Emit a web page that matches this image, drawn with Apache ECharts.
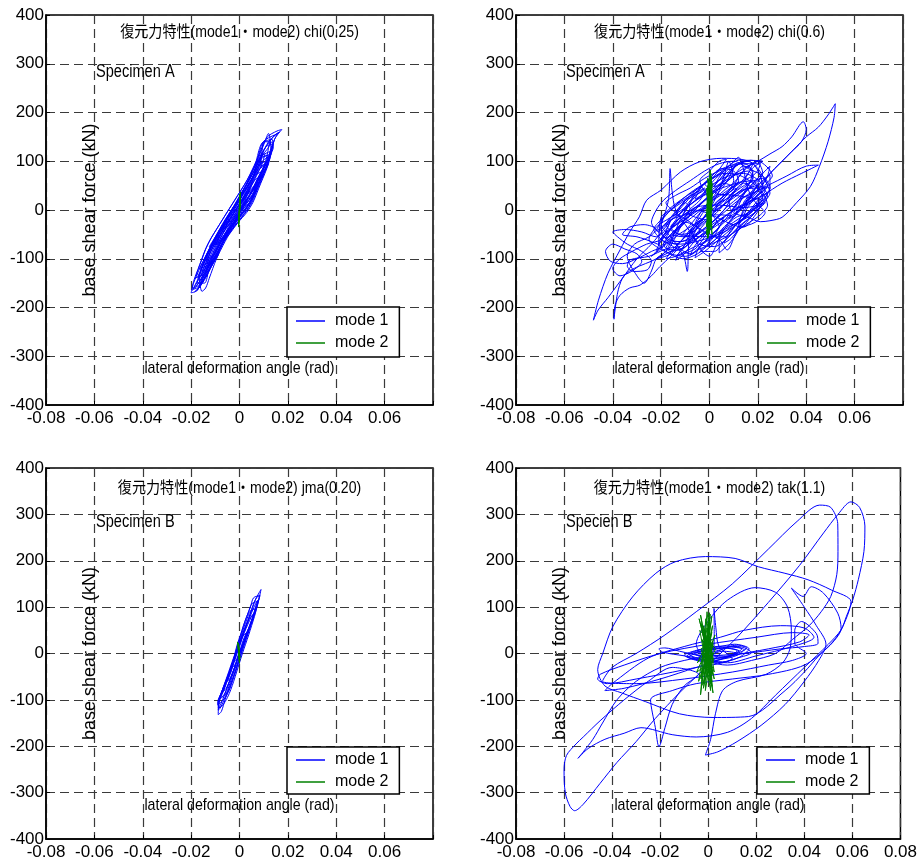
<!DOCTYPE html>
<html>
<head>
<meta charset="utf-8">
<title>復元力特性</title>
<script src="https://cdn.jsdelivr.net/npm/echarts@6/dist/echarts.min.js"></script>
<style>
  html, body { margin: 0; padding: 0; background: #fff; }
  #chart { width: 920px; height: 865px; }
</style>
</head>
<body>
<div id="chart"></div>
<script>
// [rad, kN] pairs
const chi025Mode1 = [
  [0.000,0],[0.004,20],[0.0075,45],[0.004,35],[0.000,10],[-0.0045,-15],[-0.0075,-40],
  [-0.004,-30],[0.000,-5],[0.004,15],[0.008,55],[0.010,80],
  [0.006,70],[0.002,40],[-0.002,10],[-0.006,-20],[-0.010,-55],[-0.0125,-75],
  [-0.008,-65],[-0.003,-35],[0.002,0],[0.006,30],[0.009,60],[0.0115,95],[0.013,115],
  [0.009,105],[0.005,70],[0.001,35],[-0.003,0],[-0.007,-30],[-0.011,-65],[-0.0145,-100],[-0.0165,-120],
  [-0.012,-110],[-0.008,-75],[-0.004,-40],[0.000,-5],[0.005,30],[0.0095,70],[0.0125,105],[0.0145,145],[0.0175,165],
  [0.0155,162],[0.0115,150],[0.009,125],[0.007,100],[0.004,65],[0.000,25],[-0.004,-5],[-0.008,-40],[-0.012,-75],[-0.016,-115],[-0.019,-150],[-0.020,-170],
  [-0.0175,-165],[-0.0155,-140],[-0.0125,-115],[-0.0095,-90],[-0.006,-55],[-0.002,-15],[0.003,20],[0.007,55],[0.0105,90],[0.013,125],[0.0125,150],[0.012,157],
  [0.0105,140],[0.0085,115],[0.0065,90],[0.003,55],[-0.001,20],[-0.005,-15],[-0.009,-50],[-0.013,-90],[-0.0165,-130],[-0.0175,-150],
  [-0.0145,-150],[-0.0125,-120],[-0.010,-95],[-0.006,-60],[-0.002,-25],[0.002,10],[0.006,45],[0.009,75],[0.012,110],[0.0135,135],
  [0.011,130],[0.008,100],[0.005,70],[0.001,35],[-0.003,0],[-0.0075,-35],[-0.0115,-70],[-0.015,-110],[-0.0165,-140],[-0.0155,-167],
  [-0.014,-160],[-0.0125,-140],[-0.0095,-100],[-0.006,-65],[-0.002,-30],[0.002,5],[0.0065,40],[0.0095,70],[0.012,100],[0.0125,120],
  [0.009,110],[0.006,80],[0.002,45],[-0.002,10],[-0.006,-25],[-0.010,-60],[-0.0135,-95],[-0.0145,-105],
  [-0.011,-95],[-0.007,-60],[-0.003,-25],[0.0015,10],[0.0055,40],[0.0085,70],[0.011,95],
  [0.008,85],[0.004,55],[0.000,20],[-0.004,-15],[-0.0085,-50],[-0.011,-70],
  [-0.0075,-60],[-0.0035,-25],[0.001,10],[0.005,35],[0.0075,55],
  [0.004,40],[0.000,10],[-0.004,-20],[-0.0065,-40],
  [-0.009,-60],[-0.012,-85],[-0.0135,-110],[-0.0105,-105],[-0.007,-70],[-0.0035,-35],[0.001,5],[0.005,40],[0.0085,75],[0.0115,100],[0.0128,112],
  [0.0095,100],[0.0065,75],[0.003,45],[-0.001,10],[-0.005,-20],[-0.009,-55],[-0.0125,-85],[-0.0155,-115],[-0.017,-135],
  [-0.0185,-140],[-0.016,-135],[-0.013,-125],[-0.0105,-105],[-0.0085,-85],[-0.0065,-65],[-0.0035,-45],[-0.0005,-25],[0.003,-5],
  [0.0055,15],[0.0072,35],[0.0088,55],[0.0105,75],[0.012,95],[0.013,115],[0.0138,135],[0.0135,145],
  [0.0095,138],[0.008,122],[0.007,102],[0.0052,82],[0.0032,62],[0.0008,42],[-0.0018,22],[-0.0043,2],[-0.0068,-18],
  [-0.0093,-38],[-0.0118,-58],[-0.0138,-78],[-0.0153,-98],[-0.0168,-118],[-0.018,-135],
  [-0.0165,-130],[-0.0135,-118],[-0.0115,-100],[-0.0095,-82],[-0.0072,-62],[-0.0045,-42],[-0.001,-22],[0.0022,-2],
  [0.0045,18],[0.006,38],[0.0075,58],[0.0095,78],[0.011,98],[0.0118,112],
  [0.009,108],[0.008,95],[0.0065,78],[0.0045,58],[0.002,38],[-0.0005,18],[-0.003,-2],[-0.0055,-22],[-0.008,-42],
  [-0.0105,-62],[-0.0125,-82],[-0.014,-100],[-0.015,-112],
  [-0.013,-108],[-0.0105,-92],[-0.0085,-72],[-0.006,-52],[-0.003,-32],[0.0002,-12],[0.0032,8],[0.0055,28],[0.0068,48],
  [0.0082,68],[0.010,88],[0.0112,100],
  [0.008,92],[0.0058,72],[0.0038,52],[0.0012,32],[-0.0012,12],[-0.0038,-8],[-0.0062,-28],[-0.0088,-48],[-0.011,-68],
  [-0.013,-88],[-0.014,-98],
  [-0.0115,-95],[-0.009,-75],[-0.0068,-55],[-0.004,-35],[-0.0005,-15],[0.003,5],[0.0055,25],[0.007,45],[0.0085,65],
  [0.0105,85],[0.0122,105],[0.0132,125],[0.0145,145],[0.016,158],[0.015,155],[0.012,148],[0.0095,138],
  [0.0082,118],[0.007,98],[0.005,78],[0.0028,58],[0.0003,38],[-0.0022,18],[-0.0048,-2],[-0.0073,-22],[-0.0098,-42],
  [-0.0122,-62],[-0.0142,-82],[-0.0157,-102],[-0.0172,-122],[-0.0187,-142],[-0.0195,-160],[-0.0185,-162],
  [-0.016,-150],[-0.014,-138],[-0.012,-118],[-0.010,-98],[-0.008,-78],[-0.0058,-58],[-0.0028,-38],[0.0005,-18],
  [0.0035,2],[0.0058,22],[0.0073,42],[0.0088,62],[0.0108,82],[0.012,95],
  [0.0085,85],[0.0062,65],[0.004,45],[0.0015,25],[-0.001,5],[-0.0035,-15],[-0.006,-35],[-0.0085,-55],[-0.0108,-75],
  [-0.0128,-95],[-0.0145,-115],[-0.0155,-125],
  [-0.012,-112],[-0.0098,-92],[-0.0076,-72],[-0.0052,-52],[-0.002,-32],[0.0012,-12],[0.004,8],[0.006,28],[0.0072,45],
  [0.0045,40],[0.002,22],[-0.0005,2],[-0.003,-18],[-0.0055,-38],[-0.008,-58],[-0.010,-72],
  [-0.007,-62],[-0.0045,-42],[-0.0012,-22],[0.002,-2],[0.0048,18],[0.0065,38],[0.008,58],[0.0092,70],
  [0.0065,62],[0.004,42],[0.0012,22],[-0.0015,2],[-0.004,-18],[-0.0062,-32],
  [-0.0168,-160],[-0.0146,-140],[-0.0131,-120],[-0.0113,-100],[-0.0096,-80],[-0.0076,-60],[-0.0048,-40],[-0.0018,-20],
  [0.001,0],[0.0032,20],[0.0052,40],[0.0072,60],[0.0092,80],[0.0108,100],[0.0117,120],[0.0125,140],
  [0.010,140],[0.0093,120],[0.0085,100],[0.0068,80],[0.0048,60],[0.0028,40],[0.0008,20],[-0.0015,0],[-0.0042,-20],
  [-0.0072,-40],[-0.010,-60],[-0.012,-80],[-0.0137,-100],[-0.0155,-120],[-0.017,-140],[-0.019,-160],
  [-0.018,-158],[-0.0158,-140],[-0.0142,-120],[-0.0125,-100],[-0.0108,-80],[-0.0088,-60],[-0.006,-40],[-0.003,-20],
  [0.000,0],[0.002,20],[0.004,40],[0.006,60],[0.008,80],[0.0097,100],[0.0105,115],
  [0.009,110],[0.0088,100],[0.0074,80],[0.0054,60],[0.0034,40],[0.0014,20],[-0.0008,0],[-0.0036,-20],[-0.0066,-40],
  [-0.0094,-60],[-0.0114,-80],[-0.0131,-100],[-0.0148,-120],[-0.016,-135],[-0.012,-110],[-0.006,-60],[-0.002,-25],[0.000,-5],
  [0.004,40],[0.0065,80],
  [0.007,95],[0.009,110],[0.0115,125],[0.0135,140],[0.014,130],[0.0125,110],[0.0105,95],[0.0085,90],[0.0095,115],
  [0.012,140],[0.015,155],[0.0165,160],[0.014,150],[0.011,130],[0.0085,110],
  [0.005,60],[0.001,20],[-0.004,-20],[-0.008,-60],[-0.012,-100],
  [-0.0195,-165],[-0.017,-150],[-0.014,-125],[-0.012,-105],[-0.0095,-95],[-0.011,-110],[-0.0135,-135],[-0.016,-155],
  [-0.0185,-168],[-0.017,-160],[-0.0145,-140],[-0.0115,-115],[-0.0085,-90],[-0.010,-100],[-0.0125,-120],[-0.0155,-150],
  [-0.0175,-165],[-0.013,-120],[-0.008,-70],[-0.003,-30],[0.000,-10]
];
const chi025Mode2 = [
  [0,0],[0.0003,25],[-0.0002,-20],[0.0004,37],[-0.0003,-30],[0.0002,30],[-0.0004,-35],
  [0.0003,20],[-0.0002,-25],[0.0001,33],[-0.0001,-15],[0.0002,15],[0,-5]
];

const chi06Mode1 = [
  [0.000,0],[0.005,25],[0.010,45],[0.006,55],[0.000,30],[-0.006,0],[-0.012,-35],[-0.015,-50],[-0.010,-55],[-0.004,-30],
  [0.002,-5],[0.008,20],[0.014,45],[0.018,65],[0.016,80],[0.010,70],[0.003,40],[-0.004,10],[-0.010,-20],[-0.016,-50],
  [-0.019,-70],[-0.016,-85],[-0.010,-75],[-0.005,-50],[0.001,-25],[0.007,5],[0.013,30],[0.019,55],[0.022,75],[0.020,95],
  [0.013,95],[0.006,70],[-0.001,40],[-0.007,15],[-0.013,-10],[-0.018,-30],[-0.021,-45],
  [-0.017,20],[-0.0163,85],[-0.0155,40],[-0.014,0],[-0.010,-30],[-0.006,-60],[-0.003,-85],[0.000,-95],[0.003,-70],
  [0.006,-40],[0.010,-15],[0.015,10],[0.020,30],[0.024,50],[0.022,65],[0.016,55],[0.010,35],[0.004,10],[-0.002,-15],
  [-0.008,-45],[-0.0092,-126],[-0.011,-90],[-0.015,-75],[-0.020,-60],[-0.023,-40],[-0.020,-20],[-0.014,10],[-0.008,35],
  [-0.002,55],[0.004,75],[0.009,95],[0.012,108],[0.014,85],[0.015,60],[0.017,30],[0.020,10],[0.023,-5],[0.019,-25],
  [0.012,-40],[0.0073,-82],[0.004,-60],[-0.002,-45],[-0.008,-25],[-0.014,-5],[-0.018,15],[-0.014,30],[-0.008,45],
  [-0.002,65],[0.004,80],[0.010,90],[0.016,100],[0.020,85],[0.023,60],[0.025,35],[0.022,15],[0.016,-5],[0.010,-25],
  [0.004,-45],[-0.002,-65],[-0.008,-80],[-0.014,-95],[-0.018,-100],[-0.015,-80],[-0.010,-55],[-0.004,-25],[0.002,5],
  [0.008,35],[0.012,60],[0.010,80],[0.005,85],[0.000,65],[-0.005,40],[-0.010,15],[-0.015,-15],[-0.019,-40],
  [-0.024,-70],[-0.030,-100],[-0.036,-140],[-0.042,-180],[-0.046,-205],[-0.048,-226],
  [-0.0459,-185],[-0.042,-130],[-0.037,-82],[-0.033,-45],[-0.029,-14],[-0.026,20],[-0.020,41],[-0.012,78],[-0.004,99],
  [0.005,106],[0.013,104],[0.018,95],[0.021,70],[0.022,45],[0.019,25],
  [0.012,5],[0.006,-15],[0.000,-40],[-0.006,-60],[-0.012,-75],[-0.018,-90],[-0.024,-105],[-0.029,-115],[-0.033,-125],
  [-0.036,-140],[-0.038,-170],[-0.0395,-224],[-0.039,-195],[-0.037,-175],[-0.033,-160],[-0.0287,-154],[-0.024,-135],
  [-0.0205,-116],[-0.016,-95],[-0.012,-75],
  [-0.018,-80],[-0.025,-95],[-0.0327,-102],[-0.034,-115],[-0.0313,-126],[-0.0258,-123],[-0.024,-105],[-0.028,-85],
  [-0.034,-70],[-0.038,-55],[-0.040,-45],[-0.035,-40],[-0.028,-45],[-0.022,-55],[-0.018,-40],[-0.016,-20],
  [-0.020,-60],[-0.026,-70],[-0.032,-85],[-0.037,-100],[-0.040,-120],[-0.037,-135],[-0.032,-125],[-0.028,-105],
  [-0.030,-90],[-0.035,-80],[-0.040,-70],[-0.043,-85],[-0.041,-105],[-0.036,-110],[-0.030,-100],[-0.024,-85],
  [-0.020,-75],[-0.024,-65],[-0.030,-55],[-0.036,-50],[-0.033,-35],[-0.027,-30],[-0.022,-40],[-0.025,-55],
  [-0.031,-70],[-0.034,-95],[-0.030,-135],[-0.027,-150],[-0.024,-125],[-0.022,-100],[-0.018,-85],
  [-0.010,0],[-0.004,25],[0.002,45],[0.008,65],[0.014,85],[0.020,100],[0.025,115],[0.030,130],[0.034,150],[0.0388,181],
  [0.040,165],[0.038,140],[0.034,120],[0.030,100],[0.026,80],[0.022,55],[0.018,30],
  [0.014,15],[0.018,40],[0.024,70],[0.030,100],[0.035,125],[0.040,150],[0.045,170],[0.049,195],[0.052,218],
  [0.0515,190],[0.049,140],[0.0455,90],[0.0417,48],[0.036,15],[0.030,-15],[0.025,-22],[0.021,-24],[0.016,-15],[0.010,-5],
  [0.016,15],[0.022,30],[0.030,55],[0.038,75],[0.045,92],[0.040,90],[0.032,70],[0.024,50],[0.018,35],
  [0.012,20],[0.006,-5],[0.000,-30],[-0.006,-50],[-0.012,-65],[-0.016,-60],[-0.012,-35],[-0.006,-10],[0.000,15],
  [0.006,40],[0.010,60],[0.008,100],[0.006,70],[0.004,40],[0.001,10],[-0.003,-20],[-0.007,-45],[-0.004,-70],
  [0.002,-75],[0.008,-55],[0.013,-30],[0.018,-10],[0.022,15],
  [0.016,-10],[0.008,-40],[-0.002,-60],[-0.012,-70],[-0.020,-60],[-0.014,-30],[-0.008,-5],[-0.002,20],[0.004,45],
  [0.010,70],[0.014,90],[0.018,80],[0.016,50],[0.012,20],[0.008,-10],[0.003,-40],[-0.003,-70],[-0.008,-90],[-0.012,-80],
  [-0.016,-55],[-0.020,-30],[-0.018,-5],[-0.012,20],[-0.006,40],[0.000,60],[0.006,75],[0.012,72],[0.018,55],[0.022,35],
  [0.024,10],[0.021,-10],[0.015,-30],[0.009,-50],[0.003,-65],[-0.004,-80],[-0.010,-95],[-0.016,-90],[-0.022,-75],
  [-0.025,-60],[-0.022,-35],[-0.016,-15],[-0.010,5],[-0.004,25],[0.002,40],[0.008,50],[0.014,60],[0.019,75],[0.021,95],
  [0.017,102],[0.011,90],[0.006,60],[0.002,30],[-0.002,0],[-0.006,-30],[-0.010,-55],[-0.014,-70],[-0.018,-60],
  [-0.020,-40],[-0.016,-20],[-0.010,-10],[-0.004,0],[0.002,10],[0.008,25],[0.014,40],[0.020,50],[0.024,30],[0.020,0],
  [0.014,-20],[0.008,-35],[0.002,-55],[-0.004,-75],[-0.006,-98],[-0.002,-85],[0.004,-60],[0.010,-35],[0.016,-10],
  [0.022,20],[0.025,45],[0.022,70],[0.016,85],[0.010,100],[0.004,95],[-0.002,80],[-0.008,60],[-0.014,40],[-0.019,20],
  [-0.022,0],[-0.024,-25],[-0.020,-50],[-0.014,-65],[-0.008,-60],[-0.002,-40],[0.004,-20],[0.010,0],[0.016,20],
  [0.020,40],[0.018,60],[0.012,55],[0.006,35],[0.000,15],[-0.006,-5],[-0.012,-25],[-0.018,-45],[-0.021,-70],
  [-0.017,-88],[-0.011,-100],[-0.005,-90],[0.000,-70],[0.005,-50],[0.010,-30],[0.015,-15],[0.019,5],[0.022,25],
  [0.019,45],[0.013,40],[0.008,20],[0.003,-5],[-0.002,-25],[-0.007,-45],[-0.012,-50],[-0.016,-35],[-0.012,-15],
  [-0.006,5],[0.000,30],[0.005,55],[0.009,80],[0.012,95],[0.016,92],[0.018,70],[0.015,45],[0.010,25],[0.004,5],
  [-0.002,-15],[-0.008,-35],[-0.014,-55],[-0.018,-78],[-0.013,-82],[-0.007,-65],[-0.001,-45],[0.005,-25],[0.011,-5],
  [0.017,15],[0.023,40],[0.020,62],[0.014,75],[0.008,70],[0.002,55],[-0.004,35],[-0.010,20],[-0.016,0],[-0.020,-15],
  // small loops filling the core cloud
  [-0.021,-70],[-0.017,-45],[-0.012,-15],[-0.009,-5],[-0.011,-25],[-0.014,-50],[-0.019,-75],
  [-0.024,-95],[-0.020,-75],[-0.015,-45],[-0.012,-35],[-0.014,-55],[-0.017,-80],[-0.022,-100],
  [-0.016,-90],[-0.012,-65],[-0.007,-35],[-0.004,-25],[-0.006,-45],[-0.009,-70],[-0.014,-95],
  [-0.006,-80],[-0.002,-55],[0.003,-25],[0.006,-15],[0.004,-35],[0.001,-60],[-0.004,-85],
  [0.002,-85],[0.006,-65],[0.011,-40],[0.013,-30],[0.011,-50],[0.008,-70],[0.004,-88],
  [0.004,-50],[0.008,-25],[0.013,5],[0.016,15],[0.014,-5],[0.011,-30],[0.006,-55],
  [-0.011,-50],[-0.007,-25],[-0.002,5],[0.001,15],[-0.001,-5],[-0.004,-30],[-0.009,-55],
  [-0.018,-30],[-0.014,-5],[-0.009,25],[-0.006,35],[-0.008,15],[-0.011,-10],[-0.016,-35],
  [-0.011,0],[-0.007,25],[-0.002,55],[0.001,65],[-0.001,45],[-0.004,20],[-0.009,-5],
  [-0.001,-20],[0.003,5],[0.008,35],[0.011,45],[0.009,25],[0.006,0],[0.001,-25],
  [-0.001,30],[0.003,55],[0.008,85],[0.011,95],[0.009,75],[0.006,50],[0.001,25],
  [-0.004,60],[0.000,80],[0.004,100],[0.007,104],[0.005,90],[0.002,70],[-0.002,55],
  [0.006,30],[0.010,55],[0.015,85],[0.018,95],[0.016,75],[0.013,50],[0.008,25],
  [0.009,0],[0.013,25],[0.018,55],[0.021,65],[0.019,45],[0.016,20],[0.011,-5],
  [0.014,30],[0.018,55],[0.023,80],[0.025,90],[0.024,70],[0.021,45],[0.016,25],
  [0.012,-30],[0.016,-5],[0.021,25],[0.024,35],[0.022,15],[0.019,-10],[0.014,-35],
  [-0.006,0],[-0.010,-18],[-0.015,-48],[-0.018,-58],[-0.016,-38],[-0.012,-15],[-0.008,2],
  [-0.010,15],[-0.014,-3],[-0.019,-33],[-0.022,-43],[-0.020,-23],[-0.016,0],[-0.012,17],
  [-0.002,45],[-0.006,27],[-0.011,-3],[-0.014,-13],[-0.012,7],[-0.008,30],[-0.004,47],
  [0.006,80],[0.002,62],[-0.003,32],[-0.006,22],[-0.004,42],[0.000,65],[0.004,82],
  [0.014,100],[0.010,87],[0.005,57],[0.002,47],[0.004,67],[0.008,90],[0.012,102],
  [0.022,100],[0.018,87],[0.013,57],[0.010,47],[0.012,67],[0.016,90],[0.020,100],
  [0.026,70],[0.024,57],[0.019,27],[0.016,17],[0.018,37],[0.022,60],[0.025,72],
  [0.025,45],[0.022,27],[0.017,-3],[0.014,-13],[0.016,7],[0.020,30],[0.024,47],
  [0.020,40],[0.016,22],[0.011,-8],[0.008,-18],[0.010,2],[0.014,25],[0.018,42],
  [0.014,55],[0.010,37],[0.005,7],[0.002,-3],[0.004,17],[0.008,40],[0.012,57],
  [0.006,30],[0.002,12],[-0.003,-18],[-0.006,-28],[-0.004,-8],[0.000,15],[0.004,32],
  [0.023,15],[0.019,-3],[0.014,-33],[0.011,-43],[0.013,-23],[0.017,0],[0.021,17],
  [0.018,-10],[0.014,-28],[0.009,-58],[0.006,-68],[0.008,-48],[0.012,-25],[0.016,-8],
  [0.011,-15],[0.007,-33],[0.002,-63],[-0.001,-73],[0.001,-53],[0.005,-30],[0.009,-13],
  [0.002,-10],[-0.002,-28],[-0.007,-58],[-0.010,-68],[-0.008,-48],[-0.004,-25],[0.000,-8],
  [0.004,-35],[0.000,-53],[-0.005,-83],[-0.008,-93],[-0.006,-73],[-0.002,-50],[0.002,-33],
  [-0.002,-45],[-0.006,-63],[-0.011,-93],[-0.014,-103],[-0.012,-83],[-0.008,-60],[-0.004,-43],
  [-0.010,-25],[-0.014,-43],[-0.019,-73],[-0.022,-83],[-0.020,-63],[-0.016,-40],[-0.012,-23],
  [-0.006,5],[0.004,10],[0.014,5],[0.020,10],[0.0216,18]
];
const chi06Mode2 = [
  [0,0],[0.0010,40],[-0.0010,-30],[0.0008,60],[-0.0012,-50],[0.0011,20],[-0.0009,-58],[0.0006,75],[-0.0013,-10],
  [0.0010,-40],[-0.0008,50],[0.0012,0],[-0.0011,30],[0.0004,82],[-0.0006,-55],[0.0009,-20],[-0.0012,10],[0.0011,55],
  [-0.0010,-45],[0.0007,30],[-0.0008,65],[0.0010,-35],[-0.0011,-15],[0.0005,70],[-0.0004,-50],[0.0008,10],
  [-0.0006,45],[0.0003,-25],[0.0012,35],[-0.0013,-35],[0.0009,68],[-0.0010,20],[0.0011,-50],[-0.0012,45],
  [0.0007,-10],[-0.0007,-58],[0.0010,50],[-0.0011,0],[0,5]
];

const jma020Mode1 = [
  [0,0],[0.0015,20],[0.003,45],[0.001,35],[-0.001,10],[-0.0025,-15],[-0.004,-35],
  [-0.002,-25],[0.000,0],[0.002,25],[0.0045,60],[0.006,85],
  [0.004,75],[0.0015,45],[-0.0005,15],[-0.0025,-10],[-0.0045,-40],[-0.0065,-70],[-0.0075,-85],
  [-0.0055,-75],[-0.003,-45],[-0.001,-15],[0.001,15],[0.0035,45],[0.006,80],[0.0075,105],[0.0089,138],
  [0.0082,132],[0.006,110],[0.004,80],[0.0015,45],[-0.0005,15],[-0.0025,-15],[-0.0045,-45],[-0.0065,-75],[-0.0085,-105],[-0.0088,-132],
  [-0.0075,-125],[-0.006,-100],[-0.004,-70],[-0.0015,-35],[0.0005,0],[0.0025,35],[0.005,70],[0.007,100],[0.0085,125],
  [0.007,120],[0.0055,100],[0.0035,70],[0.001,35],[-0.001,5],[-0.003,-25],[-0.005,-55],[-0.0075,-85],[-0.009,-105],
  [-0.0085,-115],[-0.007,-100],[-0.0055,-80],[-0.0035,-50],[-0.001,-15],[0.001,15],[0.0035,50],[0.0055,80],[0.007,105],[0.0075,115],
  [0.006,100],[0.004,75],[0.0015,40],[-0.0005,10],[-0.0025,-20],[-0.0045,-50],[-0.0065,-80],[-0.008,-95],
  [-0.0065,-90],[-0.0045,-65],[-0.002,-30],[0.000,0],[0.0025,35],[0.0045,65],[0.0065,90],
  [0.005,80],[0.002,45],[0.000,15],[-0.002,-15],[-0.0035,-40],[-0.005,-60],
  [-0.0035,-50],[-0.001,-15],[0.001,15],[0.003,45],[0.0045,60],
  [0.002,35],[0.000,5],[-0.0015,-15],
  [-0.0029,-20],[-0.0042,-40],[-0.0057,-60],[-0.0072,-80],[-0.0086,-100],[-0.0088,-118],
  [-0.007,-112],[-0.005,-95],[-0.0036,-78],[-0.0024,-60],[-0.0012,-40],[0.000,-20],[0.0012,0],[0.0025,20],[0.0038,40],
  [0.005,60],[0.0062,80],[0.0072,100],[0.008,118],[0.0083,125],
  [0.0058,120],[0.0045,100],[0.003,80],[0.0016,60],[0.0004,40],[-0.0009,20],[-0.0019,0],[-0.0029,-20],[-0.0042,-40],
  [-0.0057,-60],[-0.0072,-80],[-0.0086,-100],[-0.009,-110],
  [-0.0075,-104],[-0.0055,-92],[-0.004,-76],[-0.0028,-58],[-0.0015,-38],[-0.0003,-18],[0.0009,2],[0.0022,22],
  [0.0035,42],[0.0047,62],[0.0058,82],[0.0066,96],
  [0.0045,92],[0.0032,76],[0.0018,56],[0.0006,36],[-0.0006,16],[-0.0016,-4],[-0.0027,-24],[-0.004,-44],[-0.0055,-64],
  [-0.007,-84],[-0.0082,-98],
  [-0.0066,-92],[-0.0045,-80],[-0.0032,-62],[-0.002,-42],[-0.0007,-22],[0.0005,-2],[0.0018,18],[0.0031,38],[0.0043,58],
  [0.0055,78],[0.0068,102],[0.0076,112],
  [0.0052,108],[0.0036,88],[0.0022,68],[0.001,48],[-0.0002,28],[-0.0013,8],[-0.0023,-12],[-0.0034,-32],[-0.0048,-52],
  [-0.0063,-72],[-0.0078,-92],[-0.0088,-122],[-0.008,-118],[-0.006,-95],[-0.004,-65],[-0.002,-35],[0.000,-10]
];
const jma020Mode2 = [
  [0,0],[-0.0005,20],[0.0001,-15],[-0.0008,25],[0,-21],[-0.0006,15],[0.0002,-10],[-0.0004,22],[0,-18],[-0.0003,5]
];

const tak11Mode1 = [
  [0.000,0],[0.005,8],[0.010,15],[0.014,10],[0.010,-2],[0.004,-10],[-0.003,-14],[-0.008,-8],[-0.004,3],[0.003,10],
  [0.009,14],[0.015,8],[0.012,-4],[0.005,-12],[-0.002,-8],[-0.006,0],[0.000,6],[0.007,12],[0.013,5],[0.008,-6],[0.002,-2],
  [0.004,5],[0.012,18],[0.016,12],[0.010,-4],[0.002,-16],[-0.006,-12],[-0.010,-4],[-0.004,8],[0.004,14],[0.011,20],
  [0.017,10],[0.013,-8],[0.006,-18],[-0.001,-14],[-0.008,-2],[-0.002,10],[0.006,16],[0.014,14],[0.018,2],[0.012,-10],
  [0.004,-20],[-0.004,-16],[-0.009,-6],[-0.003,6],[0.005,12],[0.012,6],[0.008,-8],[0.000,-10],[-0.005,-2],[0.002,4],
  [0.0025,40],[0.0024,97],[0.0032,55],[0.0045,15],
  [0.010,-10],[-0.010,-35],[-0.030,-55],[-0.042,-65],[-0.046,-55],[-0.045,-45],[-0.035,-25],[-0.020,0],[0.000,20],
  [0.020,35],[0.035,45],[0.042,40],[0.038,25],[0.025,10],[0.010,-5],
  [-0.005,-30],[-0.020,-55],[-0.035,-75],[-0.043,-80],[-0.040,-65],[-0.025,-10],[-0.010,15],[0.005,35],[0.015,50],
  [0.030,60],[0.040,55],[0.044,35],[0.035,15],[0.020,-5],[0.008,-20],
  [-0.010,-5],[-0.019,3],[-0.0205,10],[-0.018,12],[-0.012,5],[-0.002,-5],
  [0.015,0],[0.030,10],[0.040,15],[0.0457,22],[0.045,43],[0.0388,69],[0.036,50],[0.036,22],[0.0408,0],[0.035,-15],
  [0.025,-25],[0.010,-40],[-0.010,-55],[-0.030,-65],[-0.044,-60],[-0.040,-30],[-0.030,0],[-0.018,40],[-0.005,90],
  [0.010,150],[0.025,225],[0.037,285],[0.0464,320],[0.051,315],[0.0539,280],[0.054,220],[0.0535,170],[0.051,123],
  [0.047,90],[0.042,60],[0.035,30],[0.028,0],
  [0.018,-15],[0.008,-25],[0.000,-15],[-0.005,20],[0.000,70],[0.008,115],[0.0195,142],[0.028,132],[0.033,100],
  [0.0346,50],[0.034,10],[0.031,-20],[0.024,-45],[0.012,-60],[0.006,-80],
  [0.003,-130],[0.001,-185],[-0.0012,-219],[0.004,-212],[0.012,-190],[0.022,-155],[0.032,-110],[0.040,-60],[0.046,-15],[0.049,20],
  [0.045,60],[0.040,100],[0.0346,141],[0.0395,123],[0.0429,144],[0.048,130],[0.0539,87],[0.0553,54],[0.052,25],[0.046,-5],
  [0.040,-40],[0.032,-80],[0.0167,-136],[0.002,-138],[-0.012,-130],[-0.026,-104],[-0.036,-85],[-0.043,-70],
  [-0.046,-35],[-0.0439,0],[-0.0397,58],[-0.0315,122],[-0.0218,173],[-0.0136,198],[-0.0012,209],[0.0112,205],
  [0.0209,187],[0.0319,173],[0.0415,159],[0.0512,137],[0.0594,112],[0.0553,51],[0.050,15],
  [0.040,-25],[0.025,-45],[0.010,-55],[-0.005,-65],[-0.015,-80],[-0.024,-100],[-0.022,-160],[-0.0205,-201],
  [-0.018,-160],[-0.015,-110],[-0.010,-70],[-0.004,-45],
  [-0.015,-30],[-0.025,-60],[-0.035,-100],[-0.045,-145],[-0.052,-180],[-0.055,-195],[-0.059,-220],[-0.060,-251],
  [-0.0595,-300],[-0.0575,-330],[-0.0556,-339],[-0.052,-325],[-0.045,-280],[-0.038,-235],[-0.030,-190],[-0.022,-140],
  [-0.012,-85],[0.000,-25],[0.012,35],[0.025,110],[0.038,190],[0.048,260],[0.054,300],[0.0594,327],
  [0.063,315],[0.0652,275],[0.0648,220],[0.0625,160],[0.0601,115],[0.0575,80],[0.0553,51],[0.050,20],
  [0.040,-30],[0.028,-90],[0.018,-140],[0.008,-170],[-0.005,-180],[-0.015,-175],[-0.028,-160],[-0.035,-172],
  [-0.043,-185],[-0.050,-205],[-0.0542,-226],[-0.052,-212],[-0.048,-185],[-0.044,-150],[-0.038,-100],[-0.030,-60],
  [-0.020,-30],[-0.010,-15],[0.000,-5],[0.006,5],[0.012,0],[0.006,-8],[0.000,-3]
];
const tak11Mode2 = [
  [0,0],[-0.001,40],[0.001,-30],[-0.0032,83],[0.0015,-60],[-0.002,60],[0.002,-20],[-0.0005,90],[-0.0032,-89],
  [0.0005,70],[0.0016,-71],[-0.0025,30],[0.0025,-40],[-0.001,75],[-0.003,-55],[0.0015,45],[-0.0045,-20],[0.002,20],
  [-0.002,-75],[0.0008,85],[-0.0015,-45],[0.003,10],[-0.0035,50],[0.001,-80],[-0.0005,55],[0.0022,-15],[-0.0048,-40],
  [0.0012,30],[-0.002,-65],[0.0018,60],[-0.001,-10],[0.001,-50],[-0.003,65],[0.002,-85],[-0.001,35],[0.0025,-55],
  [-0.0038,75],[0.0012,-30],[-0.0028,-70],[0.0015,80],[-0.002,-35],[0.0028,40],[-0.004,-60],[0.0005,88],[-0.0012,-80],
  [0.002,25],[-0.003,10],[0.001,-65],[-0.0015,50],[0.0018,-45],[-0.0005,0]
];

const titles = [
  '復元力特性(mode1・mode2) chi(0.25)',
  '復元力特性(mode1・mode2) chi(0.6)',
  '復元力特性(mode1・mode2) jma(0.20)',
  '復元力特性(mode1・mode2) tak(1.1)'
];
const specimens = ['Specimen A', 'Specimen A', 'Specimen B', 'Specien B'];
const legendNames = ['mode 1', 'mode 2'];
const xTitle = 'lateral deformation angle (rad)';
const yTitle = 'base shear force (kN)';

const BLUE = '#0000ff';
const GREEN = '#008000';
const FONT = '"Liberation Sans", Arial, "Noto Sans CJK JP", sans-serif';

const panels = [
  { left: 46, top: 15, height: 390, titleY: 33, specY: 72, xNameY: 368, legendLeft: 287, legendTop: 307, pad: [6, 11, 6, 9], showMax: false, mode1: chi025Mode1, mode2: chi025Mode2 },
  { left: 516, top: 15, height: 390, titleY: 33, specY: 72, xNameY: 368, legendLeft: 758, legendTop: 307, pad: [6, 11, 6, 9], showMax: false, mode1: chi06Mode1, mode2: chi06Mode2 },
  { left: 46, top: 468, height: 371, titleY: 489, specY: 522, xNameY: 805, legendLeft: 287, legendTop: 747, pad: [5, 11, 4, 9], showMax: false, mode1: jma020Mode1, mode2: jma020Mode2 },
  { left: 516, top: 468, height: 371, titleY: 489, specY: 522, xNameY: 805, legendLeft: 757, legendTop: 747, pad: [5, 11, 4, 9], showMax: true, mode1: tak11Mode1, mode2: tak11Mode2 }
];
const W = 387;

const dashed = { show: true, lineStyle: { color: '#3a3a3a', width: 1.2, type: [9, 5] } };
const frame = { show: true, onZero: false, lineStyle: { color: '#000', width: 1.5 } };
const ticks = { show: true, inside: true, length: 4, lineStyle: { color: '#000' } };

const chart = echarts.init(document.getElementById('chart'));

// the original lettering is narrow, so the texts are squeezed horizontally
const graphic = [];
panels.forEach((p, i) => {
  const cx = p.left + W / 2;
  const txt = (text, x, y, size, align, sx, rot) => ({
    type: 'text', x, y, rotation: rot || 0, scaleX: sx, z: 50,
    style: { text, font: size + 'px ' + FONT, fill: '#000', align, textAlign: align, verticalAlign: 'middle', textVerticalAlign: 'middle' }
  });
  graphic.push(txt(titles[i], cx, p.titleY, 16, 'center', 0.88));
  graphic.push(txt(specimens[i], p.left + 50, p.specY, 18, 'left', 0.81));
  graphic.push(txt(xTitle, cx, p.xNameY, 17, 'center', 0.835));
  graphic.push(txt(yTitle, p.left + 44, p.top + p.height / 2, 18, 'center', 1, Math.PI / 2));
});

const series = [];
panels.forEach((p, i) => {
  series.push({
    name: legendNames[0], type: 'line', xAxisIndex: i, yAxisIndex: i, data: p.mode1,
    symbol: 'none', showSymbol: false, smooth: 0.3, color: BLUE,
    lineStyle: { color: BLUE, width: 1 }, z: 2
  });
  series.push({
    name: legendNames[1], type: 'line', xAxisIndex: i, yAxisIndex: i, data: p.mode2,
    symbol: 'none', showSymbol: false, color: GREEN,
    lineStyle: { color: GREEN, width: 1 }, z: 3
  });
});

chart.setOption({
  animation: false,
  backgroundColor: '#fff',
  grid: panels.map(p => ({
    left: p.left, top: p.top, width: W, height: p.height,
    show: true, borderColor: '#000', borderWidth: 1.5
  })),
  xAxis: panels.map((p, i) => ({
    type: 'value', gridIndex: i, min: -0.08, max: 0.08, interval: 0.02,
    axisLine: frame, axisTick: ticks, splitLine: dashed,
    axisLabel: {
      color: '#000', fontSize: 17, fontFamily: FONT, margin: 5,
      formatter: v => (!p.showMax && v > 0.079) ? '' : String(+v.toFixed(2))
    }
  })),
  yAxis: panels.map((p, i) => ({
    type: 'value', gridIndex: i, min: -400, max: 400, interval: 100,
    axisLine: frame, axisTick: ticks, splitLine: dashed,
    axisLabel: { color: '#000', fontSize: 17, fontFamily: FONT, margin: 2 }
  })),
  legend: panels.map(p => ({
    data: legendNames, orient: 'vertical', left: p.legendLeft, top: p.legendTop,
    backgroundColor: '#fff', borderColor: '#000', borderWidth: 1.5, borderRadius: 0,
    padding: p.pad, itemGap: 6, itemWidth: 29, itemHeight: 1.5, icon: 'rect',
    selectedMode: false,
    textStyle: { fontSize: 16, fontFamily: FONT, color: '#000', padding: [0, 0, 0, 5] }
  })),
  graphic: graphic,
  series: series
});
</script>
</body>
</html>
